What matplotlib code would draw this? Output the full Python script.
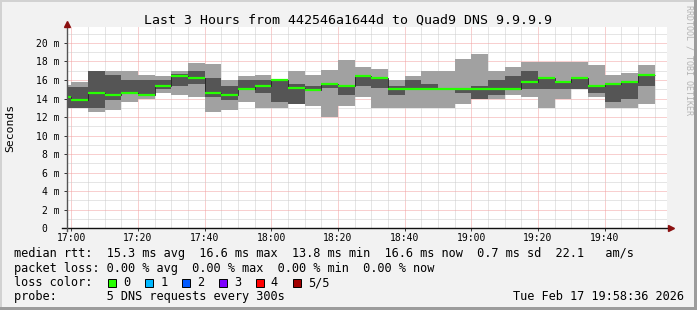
#!/usr/bin/env python3
"""SmokePing style latency chart: last 3 hours to Quad9 DNS."""

import matplotlib.pyplot as plt
import matplotlib.transforms as mtransforms
import numpy as np
from matplotlib.patches import Rectangle
from matplotlib.ticker import FixedLocator, MultipleLocator

plt.rcParams['font.family'] = ['DejaVu Sans Mono', 'DejaVu Sans']

W, H = 697, 310  # output size in pixels

# 5-minute rrd steps, minutes after 17:00 (first step is cut by the window)
bin_start = np.arange(-5, 175, 5)
x_start, x_end = -1.4, 178.6  # 16:58:36 .. 19:58:36

# sorted pings per step, in ms (5 pings -> min, 2nd, median, 4th, max)
ping_min = [13.0, 13.0, 12.55, 12.73, 13.65, 13.9, 14.6, 14.37, 14.17, 12.56,
            12.75, 13.63, 12.98, 13.0, 13.4, 13.2, 12.02, 13.2, 14.15, 13.0,
            13.0, 13.0, 13.0, 13.0, 13.4, 14.0, 14.0, 14.37, 14.13, 13.0,
            13.9, 15.08, 14.15, 12.98, 12.98, 13.4]
ping_lo = [13.0, 13.0, 13.0, 13.8, 14.6, 14.3, 15.08, 15.33, 15.55, 14.15,
           13.85, 14.88, 14.62, 13.63, 13.4, 14.85, 15.15, 14.37, 15.35, 15.12,
           14.37, 15.0, 15.0, 14.98, 14.62, 14.0, 14.37, 15.0, 15.08, 15.08,
           15.08, 15.08, 14.62, 13.63, 13.9, 15.33]
median = [14.2, 13.85, 14.6, 14.4, 14.6, 14.38, 15.35, 16.45, 16.22, 14.62,
          14.4, 15.05, 15.33, 16.0, 15.15, 14.9, 15.6, 15.35, 16.42, 16.2,
          15.05, 15.05, 15.05, 15.03, 15.03, 15.03, 15.03, 15.03, 15.8, 16.2,
          15.8, 16.2, 15.33, 15.6, 15.82, 16.55]
ping_hi = [15.2, 15.24, 17.0, 16.5, 16.0, 16.0, 16.0, 16.6, 17.0, 16.2,
           15.33, 16.0, 16.0, 16.02, 15.55, 15.33, 15.68, 15.38, 16.45, 16.25,
           15.33, 16.0, 15.55, 15.08, 15.1, 15.33, 16.0, 16.42, 17.0, 16.22,
           15.82, 16.22, 15.42, 15.65, 15.85, 16.65]
ping_max = [15.5, 15.78, 17.0, 17.0, 17.0, 16.5, 16.43, 17.0, 17.85, 17.75,
            16.0, 16.43, 16.5, 16.1, 17.0, 16.5, 17.13, 18.15, 17.42, 17.2,
            16.0, 16.43, 17.0, 17.0, 18.22, 18.8, 17.0, 17.42, 17.95, 17.95,
            17.95, 17.95, 17.6, 16.5, 16.75, 17.6]

x_ticks = [0, 20, 40, 60, 80, 100, 120, 140, 160]
x_labels = ['17:00', '17:20', '17:40', '18:00', '18:20', '18:40', '19:00', '19:20', '19:40']
y_ticks = [0, 2, 4, 6, 8, 10, 12, 14, 16, 18, 20]
y_labels = ['0', '2 m', '4 m', '6 m', '8 m', '10 m', '12 m', '14 m', '16 m', '18 m', '20 m']

loss_labels = ['0', '1', '2', '3', '4', '5/5']
loss_colors = ['#26ff00', '#00b8ff', '#0059ff', '#7e00ff', '#ff0000', '#a10000']

title = 'Last 3 Hours from 442546a1644d to Quad9 DNS 9.9.9.9'
legend_lines = [
    'median rtt:  15.3 ms avg  16.6 ms max  13.8 ms min  16.6 ms now  0.7 ms sd  22.1   am/s',
    'packet loss: 0.00 % avg  0.00 % max  0.00 % min  0.00 % now',
    'loss color:',
    'probe:       5 DNS requests every 300s',
]
stamp = 'Tue Feb 17 19:58:36 2026'

LIGHT = '#a1a1a1'
DARK = '#555555'
BG = '#f2f2f2'


def px(x, y):
    """pixel coords (top-left origin) -> figure fraction"""
    return x / W, 1 - y / H


fig = plt.figure(figsize=(W / 100, H / 100), dpi=100, facecolor=BG)

# 3d-ish frame
fig.patches.append(Rectangle((0, 1 - 2 / H), 1, 2 / H, transform=fig.transFigure,
                             color='#d2d2d2', lw=0, zorder=0))
fig.patches.append(Rectangle((0, 0), 2 / W, 1, transform=fig.transFigure,
                             color='#d2d2d2', lw=0, zorder=0))
fig.patches.append(Rectangle((0, 0), 1, 3 / H, transform=fig.transFigure,
                             color='#9c9c9c', lw=0, zorder=0))
fig.patches.append(Rectangle((1 - 3 / W, 0), 3 / W, 1, transform=fig.transFigure,
                             color='#9c9c9c', lw=0, zorder=0))

ax_l, ax_r, ax_t, ax_b = 66.7, 666.7, 26.7, 228.3
ax = fig.add_axes([ax_l / W, 1 - ax_b / H, (ax_r - ax_l) / W, (ax_b - ax_t) / H])
ax.set_facecolor('white')

edges = np.append(bin_start, bin_start[-1] + 5)
ax.stairs(ping_max, edges, baseline=ping_min, fill=True, color=LIGHT, lw=0, zorder=2)
ax.stairs(ping_hi, edges, baseline=ping_lo, fill=True, color=DARK, lw=0, zorder=3)
ax.stairs(median, edges, baseline=None, color='#222222', lw=0.6, zorder=4)
ax.hlines(median, edges[:-1], edges[1:], color=loss_colors[0], lw=1.6, zorder=5)

ax.set_xlim(x_start, x_end)
ax.set_ylim(0, 21.75)

ax.xaxis.set_major_locator(FixedLocator(x_ticks))
ax.set_xticklabels(x_labels)
ax.xaxis.set_minor_locator(MultipleLocator(5))
ax.yaxis.set_major_locator(FixedLocator(y_ticks))
ax.set_yticklabels(y_labels)
ax.yaxis.set_minor_locator(MultipleLocator(1))

ax.grid(which='major', color='#f2a0a0', ls=(0, (1, 1)), lw=0.72, zorder=1)
ax.grid(which='minor', color='#cdcdcd', ls=(0, (1, 1)), lw=0.72, zorder=1)
ax.set_axisbelow(True)

ax.tick_params(which='major', length=2, width=0.7, color='#333333', labelsize=7)
ax.tick_params(axis='x', pad=1.5)
ax.tick_params(axis='y', pad=3)
ax.tick_params(which='minor', length=0)
for lab in ax.get_yticklabels():
    if lab.get_text() == '0':
        lab.set_transform(lab.get_transform() + mtransforms.ScaledTranslation(
            -12.5 / 100, 0, fig.dpi_scale_trans))

for s in ax.spines.values():
    s.set_visible(False)

# axes with arrow heads, rrdtool style
sx = 1 / (ax_r - ax_l)
sy = 1 / (ax_b - ax_t)
ax.plot([-5 * sx, 1 + 3 * sx], [0, 0], transform=ax.transAxes, color='#111111',
        lw=1, clip_on=False, zorder=6)
ax.plot([0, 0], [-3 * sy, 1 + 2 * sy], transform=ax.transAxes, color='#555555',
        lw=1, clip_on=False, zorder=6)
ax.plot([1 + 4 * sx], [0], marker='>', ms=4, color='#8b1010', transform=ax.transAxes,
        clip_on=False, zorder=7)
ax.plot([0], [1 + 3 * sy], marker='^', ms=4, color='#8b1010', transform=ax.transAxes,
        clip_on=False, zorder=7)

# texts
fig.text(*px(347.7, 24), title, ha='center', va='baseline', fontsize=9.55)
fig.text(*px(10, (ax_t + ax_b) / 2), 'Seconds', rotation=90, ha='center', va='center',
         fontsize=8.2)
fig.text(*px(688.5, 60), 'RRDTOOL / TOBI OETIKER', rotation=270, ha='center',
         va='center', fontsize=6, color='#b4b4b4')

base_y = [257.3, 271.7, 286, 300]
for line, y in zip(legend_lines, base_y):
    fig.text(*px(14.1, y), line, ha='left', va='baseline', fontsize=8.6)
fig.text(*px(513.3, base_y[3]), stamp, ha='left', va='baseline', fontsize=8.6)

for i, (lab, col) in enumerate(zip(loss_labels, loss_colors)):
    bx = 108.3 + 36.9 * i
    x0, y0 = px(bx, 287)
    fig.patches.append(Rectangle((x0, y0), 8 / W, 8 / H, transform=fig.transFigure,
                                 facecolor=col, edgecolor='black', lw=0.7, zorder=3))
    fig.text(*px(bx + 15, base_y[2]), lab, ha='left', va='baseline', fontsize=8.6)

plt.savefig('out.png', dpi=100, facecolor=BG)
print("saved out.png")
